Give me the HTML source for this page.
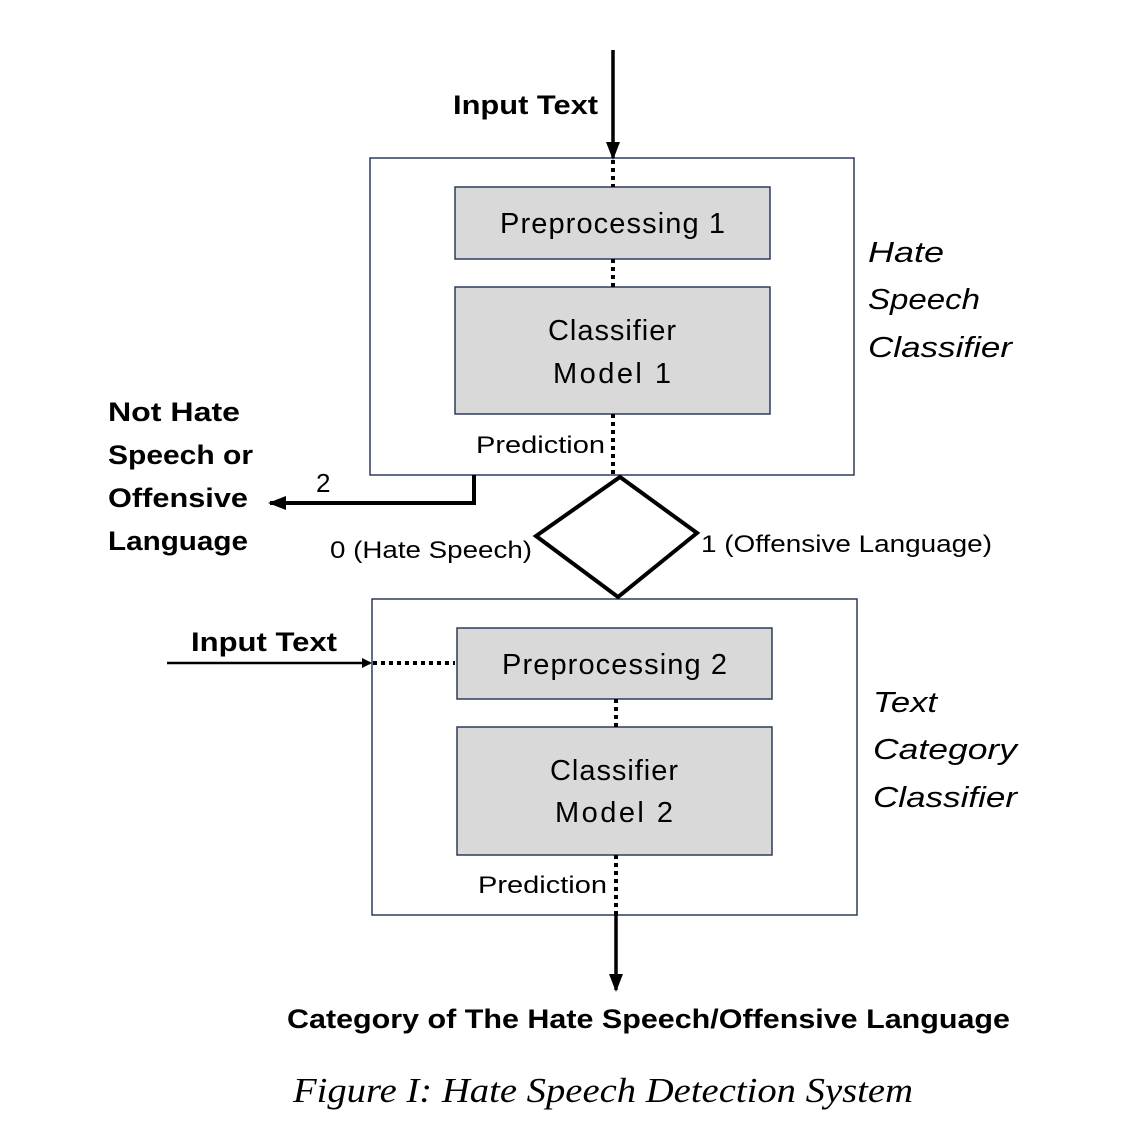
<!DOCTYPE html>
<html><head><style>
body{margin:0;background:#fff;}
svg{display:block;}
.t{font-family:"Liberation Sans",sans-serif;}
</style></head><body>
<svg width="1134" height="1144" viewBox="0 0 1134 1144" xmlns="http://www.w3.org/2000/svg">
<defs>
<marker id="ah" markerWidth="10" markerHeight="10" refX="8" refY="5" orient="auto" markerUnits="userSpaceOnUse"><path d="M0,0 L10,5 L0,10 Z" fill="#000"/></marker>
<marker id="ab" markerWidth="18" markerHeight="14" refX="16" refY="7" orient="auto" markerUnits="userSpaceOnUse"><path d="M0,0 L18,7 L0,14 Z" fill="#000"/></marker>
</defs>
<g fill="none" stroke="#2e3b5c" stroke-width="1.5">
<rect x="370" y="158" width="484" height="317"/>
<rect x="372" y="599" width="485" height="316"/>
</g>
<g fill="#d9d9d9" stroke="#2e3b5c" stroke-width="1.5">
<rect x="455" y="187" width="315" height="72"/>
<rect x="455" y="287" width="315" height="127"/>
<rect x="457" y="628" width="315" height="71"/>
<rect x="457" y="727" width="315" height="128"/>
</g>
<g stroke="#000" stroke-width="4" stroke-dasharray="4,4">
<line x1="613" y1="160" x2="613" y2="187"/>
<line x1="613" y1="259" x2="613" y2="287"/>
<line x1="613" y1="414" x2="613" y2="475"/>
<line x1="616" y1="699" x2="616" y2="727"/>
<line x1="616" y1="855" x2="616" y2="915"/>
<line x1="373" y1="663" x2="455" y2="663"/>
</g>
<line x1="613" y1="50" x2="613" y2="158" stroke="#000" stroke-width="3.5" marker-end="url(#ab)"/>
<line x1="616" y1="915" x2="616" y2="990" stroke="#000" stroke-width="3.5" marker-end="url(#ab)"/>
<polyline points="474,475 474,503 270,503" fill="none" stroke="#000" stroke-width="4" marker-end="url(#ab)"/>
<line x1="167" y1="663" x2="370" y2="663" stroke="#000" stroke-width="2.5" marker-end="url(#ah)"/>
<polygon points="620,477 697,533 618,597 536,536" fill="none" stroke="#000" stroke-width="4"/>
<g class="t" font-size="29" fill="#000" lengthAdjust="spacingAndGlyphs">
<text x="500" y="233" textLength="225">Preprocessing 1</text>
<text x="548" y="340" textLength="128">Classifier</text>
<text x="553" y="383" textLength="118">Model 1</text>
<text x="502" y="674" textLength="225">Preprocessing 2</text>
<text x="550" y="780" textLength="128">Classifier</text>
<text x="555" y="822" textLength="118">Model 2</text>
</g>
<g class="t" font-size="24" fill="#000">
<text x="476" y="453" textLength="129" lengthAdjust="spacingAndGlyphs">Prediction</text>
<text x="478" y="893" textLength="129" lengthAdjust="spacingAndGlyphs">Prediction</text>
<text x="330" y="558" textLength="202" lengthAdjust="spacingAndGlyphs">0 (Hate Speech)</text>
<text x="701" y="552" textLength="291" lengthAdjust="spacingAndGlyphs">1 (Offensive Language)</text>
<text x="316" y="492" font-size="26">2</text>
</g>
<g class="t" font-size="29" font-style="italic" fill="#000">
<text x="868" y="262" textLength="76" lengthAdjust="spacingAndGlyphs">Hate</text>
<text x="868" y="309" textLength="112" lengthAdjust="spacingAndGlyphs">Speech</text>
<text x="868" y="357" textLength="144" lengthAdjust="spacingAndGlyphs">Classifier</text>
<text x="873" y="712" textLength="64" lengthAdjust="spacingAndGlyphs">Text</text>
<text x="873" y="759" textLength="144" lengthAdjust="spacingAndGlyphs">Category</text>
<text x="873" y="807" textLength="144" lengthAdjust="spacingAndGlyphs">Classifier</text>
</g>
<g class="t" font-size="27" font-weight="bold" fill="#000">
<text x="453" y="114" textLength="145" lengthAdjust="spacingAndGlyphs">Input Text</text>
<text x="191" y="651" textLength="146" lengthAdjust="spacingAndGlyphs">Input Text</text>
<text x="108" y="421" textLength="132" lengthAdjust="spacingAndGlyphs">Not Hate</text>
<text x="108" y="464" textLength="145" lengthAdjust="spacingAndGlyphs">Speech or</text>
<text x="108" y="507" textLength="140" lengthAdjust="spacingAndGlyphs">Offensive</text>
<text x="108" y="550" textLength="140" lengthAdjust="spacingAndGlyphs">Language</text>
<text x="287" y="1028" textLength="723" lengthAdjust="spacingAndGlyphs">Category of The Hate Speech/Offensive Language</text>
</g>
<text x="293" y="1102" textLength="620" lengthAdjust="spacingAndGlyphs" font-family="Liberation Serif,serif" font-style="italic" font-size="35">Figure I: Hate Speech Detection System</text>
</svg>
</body></html>
